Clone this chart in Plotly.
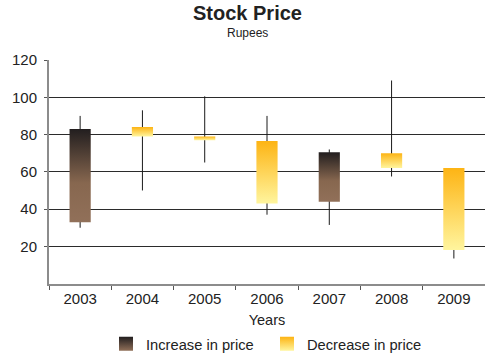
import plotly.graph_objects as go

# Yearly stock prices in rupees
years = ["2003", "2004", "2005", "2006", "2007", "2008", "2009"]
open_price = [33, 84, 79, 76.5, 44, 70, 62]
high_price = [90, 93, 100.5, 90, 72, 109, 62]
low_price = [30, 50, 65, 37, 31.5, 57.5, 13.5]
close_price = [83, 79, 77, 43, 70.5, 62, 18]

FONT = "Liberation Sans, Arial, sans-serif"
HALF_W = 0.17  # half body width in category units

UP_DARK, UP_BROWN = "#221e1f", "#917059"
DOWN_ORANGE, DOWN_PALE = "#fdb414", "#fff59e"
UP_SCALE = [[0, UP_BROWN], [0.42, "#87674f"], [1, UP_DARK]]
DOWN_SCALE = [[0, DOWN_PALE], [1, DOWN_ORANGE]]

fig = go.Figure()

# wicks (high-low lines)
wx, wy = [], []
for i in range(len(years)):
    wx += [i, i, None]
    wy += [low_price[i], high_price[i], None]
fig.add_trace(go.Scatter(x=wx, y=wy, mode="lines",
                         line=dict(color="#1a1a1a", width=1),
                         showlegend=False, hoverinfo="skip"))

# candle bodies with vertical gradient fills
for i, yr in enumerate(years):
    o, c = open_price[i], close_price[i]
    up = c >= o
    lo, hi = min(o, c), max(o, c)
    fig.add_trace(go.Scatter(
        x=[i - HALF_W, i + HALF_W, i + HALF_W, i - HALF_W, i - HALF_W],
        y=[lo, lo, hi, hi, lo],
        mode="lines", fill="toself",
        line=dict(width=0, color="rgba(0,0,0,0)"),
        fillgradient=dict(type="vertical",
                          colorscale=UP_SCALE if up else DOWN_SCALE),
        showlegend=False, hoverinfo="skip",
    ))

# legend entries with gradient square swatches
for name, top, bottom in [("Increase in price", UP_DARK, UP_BROWN),
                          ("Decrease in price", DOWN_ORANGE, DOWN_PALE)]:
    fig.add_trace(go.Scatter(
        x=[None], y=[None], mode="markers", name=name,
        marker=dict(symbol="square", size=14, color=top,
                    line=dict(width=0),
                    gradient=dict(type="vertical", color=bottom)),
    ))

TITLE_X = (0.51 * 485 - 49) / 436

fig.update_layout(
    width=485, height=354,
    margin=dict(l=49, r=0, t=60, b=68),
    paper_bgcolor="white", plot_bgcolor="white",
    font=dict(family=FONT, size=13, color="#222"),
    showlegend=True,
    legend=dict(orientation="h", x=0.5, xanchor="center",
                yref="container", y=0.074, yanchor="top",
                font=dict(size=14.7, color="#222"),
                itemwidth=30, entrywidth=116, tracegroupgap=0),
    annotations=[
        dict(text="<b>Stock Price</b>", xref="paper", yref="paper",
             x=TITLE_X, y=1.0, yanchor="bottom", showarrow=False,
             font=dict(size=20, color="#222"), yshift=34),
        dict(text="Rupees", xref="paper", yref="paper",
             x=TITLE_X, y=1.0, yanchor="bottom", showarrow=False,
             font=dict(size=12, color="#222"), yshift=18),
    ],
)

fig.update_xaxes(
    range=[-0.5, len(years) - 0.5],
    tickmode="array", tickvals=list(range(len(years))), ticktext=years,
    ticks="", showgrid=False, zeroline=False,
    showline=True, linecolor="#8c8c8c", linewidth=2,
    minor=dict(tickmode="array",
               tickvals=[i - 0.5 for i in range(len(years) + 1)],
               ticks="outside", ticklen=4, tickcolor="#555", showgrid=False),
    tickfont=dict(size=15, color="#222"),
    title=dict(text="Years", font=dict(size=14.5, color="#222"), standoff=11),
)

fig.update_yaxes(
    range=[0, 120], tickmode="array", tickvals=[20, 40, 60, 80, 100, 120],
    showgrid=True, gridcolor="#2b2b2b", gridwidth=1, zeroline=False,
    showline=True, linecolor="#8c8c8c", linewidth=2,
    ticks="outside", ticklen=3, tickcolor="#555", ticklabelstandoff=4,
    tickfont=dict(size=15, color="#222"),
)

fig.write_html("out.html")
